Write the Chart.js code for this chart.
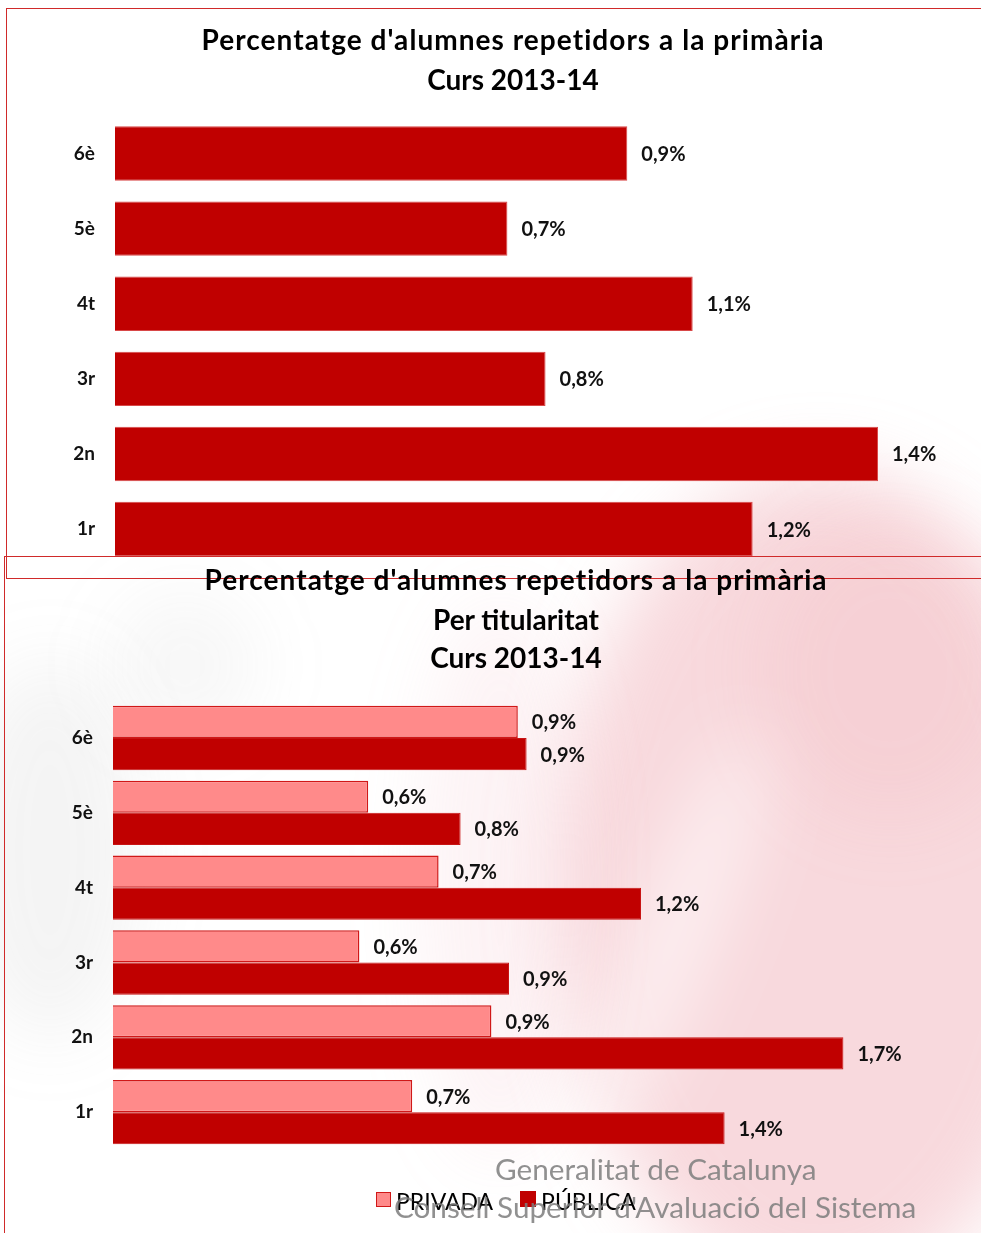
<!DOCTYPE html>
<html>
<head>
<meta charset="utf-8">
<script src="https://cdn.jsdelivr.net/npm/chart.js@4.4.1/dist/chart.umd.min.js"></script>
<style>
  html,body{margin:0;padding:0;background:#fff;}
  body{width:981px;height:1233px;position:relative;overflow:hidden;font-family:Lato,"Liberation Sans",sans-serif;}
  .wm{position:absolute;left:0;top:0;width:981px;height:1233px;z-index:0;overflow:hidden;}
  .blob{position:absolute;border-radius:50%;filter:blur(36px);}
  .box{position:absolute;border:1.5px solid #d02a2a;box-sizing:border-box;z-index:5;pointer-events:none;}
  .title{position:absolute;left:0;text-align:center;font-weight:700;font-size:28px;color:#000;z-index:6;white-space:nowrap;}
  .wide{letter-spacing:1.05px;}
  .cw{position:absolute;left:0;z-index:3;}
  canvas{display:block;}
  .legend{position:absolute;top:1184px;left:376px;font-size:23px;color:#000;z-index:6;white-space:nowrap;}
  .lg{display:inline-block;vertical-align:middle;}
  .sw{display:inline-block;width:15px;height:15px;box-sizing:border-box;vertical-align:middle;margin-right:5px;position:relative;top:-2px;}
  .wtext{position:absolute;color:rgba(125,125,125,0.85);font-size:29.7px;z-index:7;white-space:nowrap;}
</style>
</head>
<body>
<div class="wm">
  <div class="blob" style="left:560px;top:470px;width:520px;height:830px;background:rgba(236,150,160,0.36);"></div>
  <div class="blob" style="left:760px;top:520px;width:260px;height:300px;background:rgba(236,150,160,0.12);"></div>
  <div class="blob" style="left:640px;top:720px;width:70px;height:430px;background:rgba(255,255,255,0.65);transform:rotate(22deg);"></div>
  <div class="blob" style="left:420px;top:600px;width:160px;height:560px;background:rgba(236,160,170,0.12);"></div>
  <div class="blob" style="left:-40px;top:660px;width:180px;height:380px;background:rgba(150,150,150,0.10);"></div>
  <div class="blob" style="left:110px;top:590px;width:150px;height:150px;background:rgba(150,150,150,0.08);"></div>
</div>

<div class="cw" style="top:0;"><canvas id="c1" width="981" height="598"></canvas></div>
<div class="cw" style="top:560px;"><canvas id="c2" width="981" height="673"></canvas></div>

<div class="box" style="left:6px;top:8px;width:1000px;height:571px;"></div>
<div class="box" style="left:4px;top:556px;width:1000px;height:700px;"></div>

<div class="title wide" style="top:22px;width:1026px;">Percentatge d'alumnes repetidors a la primària</div>
<div class="title" style="top:62px;width:1026px;">Curs 2013-14</div>
<div class="title wide" style="top:562px;width:1032px;">Percentatge d'alumnes repetidors a la primària</div>
<div class="title" style="top:602px;width:1032px;">Per titularitat</div>
<div class="title" style="top:640px;width:1032px;">Curs 2013-14</div>

<div class="legend">
  <span class="sw" style="background:#ff8a8a;border:1.5px solid #d01818;"></span><span class="lg">PRIVADA</span>
  <span class="sw" style="background:#c00000;margin-left:21px;width:16px;height:16px;"></span><span class="lg">PÚBLICA</span>
</div>
<div class="wtext" style="left:495px;top:1151px;">Generalitat de Catalunya</div>
<div class="wtext" style="left:394px;top:1189px;">Consell Superior d'Avaluació del Sistema</div>

<script>
const categories = ["6è", "5è", "4t", "3r", "2n", "1r"];
const totalValues = [0.94, 0.72, 1.06, 0.79, 1.40, 1.17];
const seriesNames = ["PRIVADA", "PÚBLICA"];
const privadaValues = [0.92, 0.58, 0.74, 0.56, 0.86, 0.68];
const publicaValues = [0.94, 0.79, 1.20, 0.90, 1.66, 1.39];

const FONT = 'Lato, "Liberation Sans", sans-serif';
const fmt = v => v.toFixed(1).replace('.', ',') + '%';

const labelPlugin = {
  id: 'valueLabels',
  afterDatasetsDraw(chart) {
    const ctx = chart.ctx;
    ctx.save();
    ctx.font = 'bold 20px ' + FONT;
    ctx.fillStyle = '#111';
    ctx.textAlign = 'left';
    ctx.textBaseline = 'middle';
    chart.data.datasets.forEach((ds, di) => {
      const meta = chart.getDatasetMeta(di);
      meta.data.forEach((el, i) => {
        ctx.fillText(fmt(ds.data[i]), el.x + 14, el.y + 1);
      });
    });
    ctx.restore();
  }
};

function yAxis(width) {
  return {
    grid: {display: false, drawTicks: false},
    border: {display: false},
    ticks: {color: '#111', padding: 20, font: {family: FONT, weight: 'bold', size: 19}},
    afterFit: s => { s.width = width; }
  };
}

new Chart(document.getElementById('c1'), {
  type: 'bar',
  data: {
    labels: categories,
    datasets: [{
      data: totalValues,
      backgroundColor: '#c00000',
      borderColor: '#d84848',
      borderWidth: 1,
      categoryPercentage: 0.725,
      barPercentage: 1
    }]
  },
  options: {
    indexAxis: 'y',
    responsive: false,
    animation: false,
    layout: {padding: {top: 116, bottom: 12.3, left: 0, right: 48.5}},
    plugins: {legend: {display: false}, tooltip: {enabled: false}},
    scales: {
      x: {display: false, min: 0, max: 1.5},
      y: yAxis(115)
    }
  },
  plugins: [labelPlugin]
});

new Chart(document.getElementById('c2'), {
  type: 'bar',
  data: {
    labels: categories,
    datasets: [
      {label: seriesNames[0], data: privadaValues, backgroundColor: '#ff8a8a', borderColor: '#d01818', borderWidth: 1.5,
       categoryPercentage: 0.86, barPercentage: 1},
      {label: seriesNames[1], data: publicaValues, backgroundColor: '#c00000', borderColor: '#c81414', borderWidth: 1,
       categoryPercentage: 0.86, barPercentage: 1}
    ]
  },
  options: {
    indexAxis: 'y',
    responsive: false,
    animation: false,
    layout: {padding: {top: 140.6, bottom: 83.4, left: 0, right: 32}},
    plugins: {legend: {display: false}, tooltip: {enabled: false}},
    scales: {
      x: {display: false, min: 0, max: 1.9},
      y: yAxis(113)
    }
  },
  plugins: [labelPlugin]
});
</script>
</body>
</html>
